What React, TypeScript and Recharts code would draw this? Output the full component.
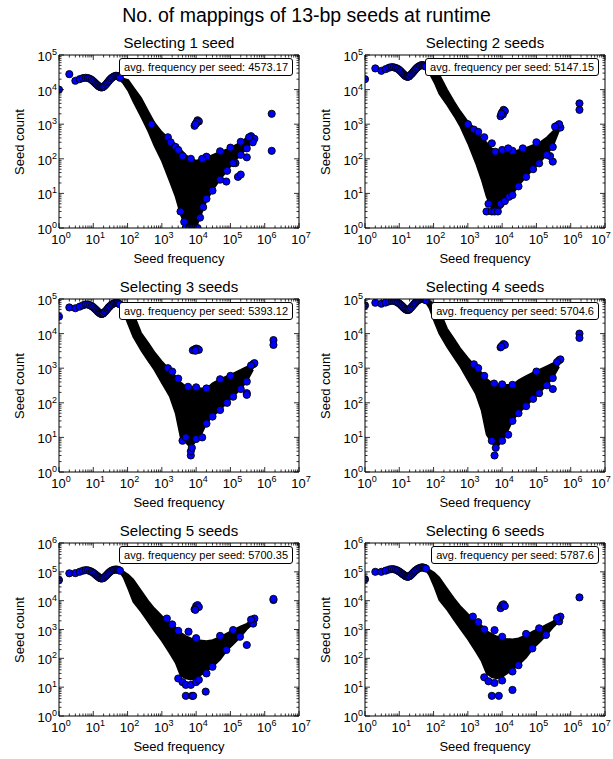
import React from 'react'
import { ComposedChart, Area, Scatter, XAxis, YAxis } from 'recharts'

const FONT = '"Liberation Sans", Arial, Helvetica, sans-serif'

// single dots of the low-frequency run (shared x positions)
const curveX = [1, 2, 3, 4, 5, 6, 7, 8, 9, 10, 11, 12, 13, 14, 15, 16, 17, 18, 19, 20, 22, 24, 26, 28, 30, 33, 36, 40, 44, 48, 52, 56, 60]
// x positions where the dense black mass is sampled
const bandX = [60, 75, 105, 146, 250, 400, 600, 1000, 1700, 2500, 3500, 5000, 7000, 1e4, 1.3e4, 2e4, 3e4, 5e4, 8e4, 1.2e5, 2e5, 3e5, 4.6e5]

const titles = ['Selecting 1 seed', 'Selecting 2 seeds', 'Selecting 3 seeds', 'Selecting 4 seeds', 'Selecting 5 seeds', 'Selecting 6 seeds']
const avgFreq = ['4573.17', '5147.15', '5393.12', '5704.6', '5700.35', '5787.6']
const yMaxes = [1e5, 1e5, 1e5, 1e5, 1e6, 1e6]

const p1Curve = [1e4, 2.8e4, 1.8e4, 2.0e4, 2.15e4, 2.2e4, 2.15e4, 2.05e4, 1.9e4, 1.75e4, 1.6e4, 1.47e4, 1.36e4, 1.28e4, 1.22e4, 1.18e4, 1.16e4, 1.16e4, 1.18e4, 1.22e4, 1.32e4, 1.45e4, 1.6e4, 1.75e4, 1.9e4, 2.1e4, 2.25e4, 2.4e4, 2.5e4, 2.5e4, 2.45e4, 2.35e4, 2.2e4]
const p1Hi = [2.2e4, 2.1e4, 1.9e4, 1.2e4, 5.8e3, 2.4e3, 1.15e3, 600, 360, 270, 190, 130, 100, 90, 95, 110, 130, 160, 190, 230, 300, 420, 400]
const p1Lo = [1.9e4, 1.5e4, 9e3, 4.5e3, 1.6e3, 620, 240, 85, 22, 8, 2.5, 1, 1, 1, 2, 6, 12, 25, 45, 75, 130, 200, 330]
const p1Extra = [
  [500, 1000], [1500, 420], [1800, 300], [2500, 220], [3000, 180], [4000, 120],
  [9000, 900], [10000, 1050], [11000, 1300], [12000, 1200], [10500, 1150], [9500, 1000],
  [1.6e6, 2000], [1.6e6, 170],
  [7.6e4, 22], [1.66e5, 30], [2e5, 35], [3e5, 110], [1.4e5, 75], [4e5, 450], [5e5, 380], [4.5e5, 300], [3.5e5, 420],
  [5000, 1], [6500, 1], [8000, 1], [9500, 1], [11000, 1],
  [3500, 3], [4500, 1.5], [1.3e4, 2], [1.6e4, 4], [2e4, 7], [3e4, 12], [5e4, 25], [8e4, 45], [1.2e5, 75], [2e5, 130], [3e5, 200],
  [2e4, 115], [5e4, 165], [1e5, 210], [2e5, 310], [1.5e4, 100], [7000, 100],
]

const p2Curve = [2e4, 4.1e4, 3.5e4, 3.9e4, 4.3e4, 4.5e4, 4.4e4, 4.2e4, 4.0e4, 3.7e4, 3.4e4, 3.1e4, 2.85e4, 2.65e4, 2.5e4, 2.4e4, 2.35e4, 2.35e4, 2.4e4, 2.5e4, 2.75e4, 3.0e4, 3.3e4, 3.6e4, 3.9e4, 4.3e4, 4.6e4, 4.9e4, 5.1e4, 5.1e4, 5.0e4, 4.8e4, 4.6e4]
const p2Hi = [4.6e4, 4.4e4, 4e4, 2.8e4, 1e4, 4.5e3, 2.4e3, 1.2e3, 700, 400, 300, 200, 180, 170, 165, 160, 180, 210, 250, 290, 420, 620, 950]
const p2Lo = [4.0e4, 3.0e4, 1.6e4, 7.5e3, 3.5e3, 1.7e3, 850, 280, 75, 25, 8, 3.5, 3, 4, 6, 9, 17, 30, 50, 74, 130, 220, 650]
const p2Extra = [
  [1000, 1000], [1500, 700], [2000, 600], [3000, 420], [5000, 280],
  [9000, 1700], [10000, 2200], [11000, 2600], [12000, 2400], [10500, 1900], [9500, 2000],
  [1.8e6, 4000], [1.8e6, 2600],
  [3e5, 83], [2.5e5, 120], [4e5, 900], [5e5, 800], [4.6e5, 1000], [3.5e5, 850],
  [3500, 3], [5000, 3], [6000, 3], [7500, 3], [4000, 5], [9000, 5], [1.2e4, 6], [1.6e4, 8], [2e4, 9], [3e4, 16], [5e4, 30], [8e4, 50], [1.2e5, 74], [2e5, 130], [3e5, 220],
  [6300, 160], [1e4, 180], [2e4, 170], [1e5, 300], [1.5e4, 200], [4e4, 200],
]

const p3Curve = [3.1e4, 5.7e4, 5.4e4, 6.0e4, 6.6e4, 7.0e4, 6.9e4, 6.6e4, 6.2e4, 5.8e4, 5.3e4, 4.9e4, 4.5e4, 4.2e4, 4.0e4, 3.8e4, 3.7e4, 3.7e4, 3.8e4, 3.9e4, 4.3e4, 4.7e4, 5.2e4, 5.7e4, 6.1e4, 6.7e4, 7.1e4, 7.5e4, 7.7e4, 7.7e4, 7.6e4, 7.3e4, 7.0e4]
const p3Hi = [7.0e4, 6.8e4, 6e4, 4e4, 1.05e4, 5.5e3, 3e3, 1.6e3, 900, 600, 400, 300, 290, 280, 270, 260, 370, 480, 600, 710, 900, 1.1e3, 1.4e3]
const p3Lo = [6e4, 4.2e4, 1.8e4, 8e3, 3.2e3, 1.6e3, 900, 370, 150, 50, 10, 7, 5, 8, 10, 25, 40, 62, 100, 150, 250, 410, 900]
const p3Extra = [
  [1500, 1000], [2000, 800], [3000, 500], [5800, 290],
  [8000, 3300], [9000, 3500], [10000, 3700], [11000, 3600], [12000, 3400], [9500, 3200],
  [1.8e6, 6500], [1.8e6, 4700],
  [3e5, 190], [3e5, 170], [4.6e5, 1300], [5e5, 1400], [4e5, 1200],
  [7000, 3], [7000, 4], [7500, 5], [4000, 8], [5000, 10], [1e4, 9], [1.5e4, 10], [2e4, 25], [3e4, 40], [5e4, 62], [8e4, 100], [1.2e5, 150], [2e5, 250], [3e5, 410],
  [2e4, 260], [1e4, 280], [1e5, 600], [5e4, 480],
]

const p4Curve = [6.5e4, 7.8e4, 7.3e4, 7.9e4, 8.5e4, 8.9e4, 8.8e4, 8.4e4, 7.9e4, 7.4e4, 6.8e4, 6.3e4, 5.8e4, 5.4e4, 5.1e4, 4.9e4, 4.8e4, 4.8e4, 4.9e4, 5.1e4, 5.6e4, 6.2e4, 6.8e4, 7.4e4, 8.0e4, 8.8e4, 9.3e4, 9.8e4, 1.0e5, 1.0e5, 9.9e4, 9.6e4, 9.2e4]
const p4Hi = [9.2e4, 8.8e4, 7.5e4, 5e4, 1.4e4, 7e3, 3.8e3, 2e3, 1.1e3, 750, 500, 380, 350, 340, 330, 330, 450, 600, 750, 900, 1.15e3, 1.4e3, 1.8e3]
const p4Lo = [7.8e4, 5.5e4, 2.2e4, 1e4, 4e3, 2e3, 1.1e3, 450, 180, 60, 12, 7, 5, 8, 12, 30, 50, 80, 130, 190, 320, 520, 1.1e3]
const p4Extra = [
  [1500, 1300], [2000, 1000], [3000, 600], [5800, 360],
  [9000, 4000], [10000, 4500], [11000, 5000], [12000, 4700], [9500, 4200],
  [1.8e6, 1e4], [1.8e6, 7500],
  [3e5, 250], [4.6e5, 1700], [5e5, 1800], [4e5, 1500],
  [6000, 3], [6500, 5], [5000, 8], [1e4, 8], [1.5e4, 12], [2e4, 30], [3e4, 50], [5e4, 80], [8e4, 130], [1.2e5, 190], [2e5, 320], [3e5, 520],
  [2e4, 330], [1e4, 340], [1e5, 800],
]

const p5Curve = [5.2e4, 8.9e4, 9.0e4, 1.0e5, 1.1e5, 1.15e5, 1.13e5, 1.07e5, 1.0e5, 9.3e4, 8.5e4, 7.8e4, 7.2e4, 6.7e4, 6.3e4, 6.0e4, 5.9e4, 5.9e4, 6.0e4, 6.2e4, 6.8e4, 7.5e4, 8.3e4, 9.1e4, 9.8e4, 1.07e5, 1.13e5, 1.18e5, 1.2e5, 1.2e5, 1.18e5, 1.14e5, 1.1e5]
const p5Hi = [1.1e5, 1.05e5, 8e4, 5.5e4, 2.2e4, 1e4, 5.5e3, 3e3, 1.8e3, 1.2e3, 800, 600, 500, 450, 420, 400, 430, 550, 750, 960, 1.3e3, 1.6e3, 2.4e3]
const p5Lo = [9.5e4, 6.5e4, 2.5e4, 9e3, 4e3, 1.8e3, 900, 400, 150, 70, 25, 20, 18, 20, 25, 35, 50, 90, 190, 300, 560, 1e3, 1.6e3]
const p5Extra = [
  [1400, 2400], [2000, 1500], [3000, 900], [6000, 840], [1e4, 500],
  [9000, 5000], [10000, 6500], [11000, 7000], [12000, 6000], [9500, 4800],
  [1.8e6, 1.05e4], [1.8e6, 1.15e4],
  [3e5, 290], [4.6e5, 1600], [5e5, 2400], [4e5, 2200],
  [5000, 5], [7600, 5], [8200, 5], [1.9e4, 7], [3000, 20], [4000, 15], [5000, 12], [7000, 12], [1e4, 15], [1.2e4, 18], [2e4, 30], [3e4, 51], [7.6e4, 195], [1.9e5, 560],
  [5e4, 600], [1.2e5, 960],
]

const p6Curve = [5.5e4, 1.0e5, 1.0e5, 1.1e5, 1.2e5, 1.25e5, 1.23e5, 1.17e5, 1.1e5, 1.02e5, 9.4e4, 8.7e4, 8.1e4, 7.6e4, 7.2e4, 6.9e4, 6.8e4, 6.8e4, 6.9e4, 7.1e4, 7.8e4, 8.6e4, 9.5e4, 1.04e5, 1.12e5, 1.22e5, 1.3e5, 1.37e5, 1.42e5, 1.42e5, 1.4e5, 1.35e5, 1.3e5]
const p6Hi = [1.3e5, 1.22e5, 9.5e4, 6.5e4, 2.6e4, 1.2e4, 6.5e3, 3.5e3, 2e3, 1.4e3, 900, 700, 580, 520, 480, 460, 500, 640, 870, 1.1e3, 1.5e3, 1.9e3, 2.8e3]
const p6Lo = [1.1e5, 7.5e4, 3e4, 1.05e4, 4.7e3, 2.1e3, 1.05e3, 460, 170, 80, 30, 22, 20, 22, 28, 40, 58, 105, 220, 350, 650, 1.15e3, 1.9e3]
const p6Extra = [
  [1400, 2800], [2000, 1800], [3000, 1000], [6000, 950], [1e4, 560],
  [9000, 5500], [10000, 7000], [11000, 7500], [12000, 6500],
  [1.8e6, 1.3e4],
  [4.6e5, 1900], [5e5, 2800], [4e5, 2500],
  [5000, 5], [8000, 5], [2e4, 8], [3000, 22], [4000, 16], [6000, 14], [1e4, 17], [2e4, 35], [3e4, 58], [7.6e4, 220], [1.9e5, 650],
  [5e4, 700], [1.2e5, 1100],
]

const curves = [p1Curve, p2Curve, p3Curve, p4Curve, p5Curve, p6Curve]
const his = [p1Hi, p2Hi, p3Hi, p4Hi, p5Hi, p6Hi]
const los = [p1Lo, p2Lo, p3Lo, p4Lo, p5Lo, p6Lo]
const extras = [p1Extra, p2Extra, p3Extra, p4Extra, p5Extra, p6Extra]

// log ticks: majors at powers of ten, minors at 2..9
function logTicks(maxExp: number) {
  const t: number[] = []
  for (let e = 0; e < maxExp; e++) for (let m = 1; m < 10; m++) t.push(m * Math.pow(10, e))
  t.push(Math.pow(10, maxExp))
  return t
}
const xTicks = logTicks(7)

function isMajor(v: number) {
  const l = Math.log10(v)
  return Math.abs(l - Math.round(l)) < 1e-6
}

const MAJ = 5
const MIN = 2.5

function Pow({ x, y, exp, anchor }: any) {
  return (
    <text x={x} y={y} textAnchor={anchor} fontSize={13} fontFamily={FONT} fill="#000">
      10<tspan dy={-6} fontSize={9}>{exp}</tspan>
    </text>
  )
}

function BottomTick({ x, y, payload, maxX }: any) {
  const v = payload.value
  const major = isMajor(v)
  // keep the last label inside the page on the right column
  const lx = Math.min(x + 2, maxX - 11)
  return (
    <g>
      <line x1={x} x2={x} y1={y} y2={y - (major ? MAJ : MIN)} stroke="#000" strokeWidth={0.8} />
      {major && <Pow x={lx} y={y + 16} exp={Math.round(Math.log10(v))} anchor="middle" />}
    </g>
  )
}

function TopTick({ x, y, payload }: any) {
  const major = isMajor(payload.value)
  return <line x1={x} x2={x} y1={y} y2={y + (major ? MAJ : MIN)} stroke="#000" strokeWidth={0.8} />
}

function LeftTick({ x, y, payload }: any) {
  const v = payload.value
  const major = isMajor(v)
  return (
    <g>
      <line x1={x} x2={x + (major ? MAJ : MIN)} y1={y} y2={y} stroke="#000" strokeWidth={0.8} />
      {major && <Pow x={x - 2} y={y + 6} exp={Math.round(Math.log10(v))} anchor="end" />}
    </g>
  )
}

function RightTick({ x, y, payload }: any) {
  const major = isMajor(payload.value)
  return <line x1={x} x2={x - (major ? MAJ : MIN)} y1={y} y2={y} stroke="#000" strokeWidth={0.8} />
}

function Dot(props: any) {
  const { cx, cy } = props
  if (cx == null || cy == null) return null
  return <circle cx={cx} cy={cy} r={3.6} fill="#0000ff" stroke="#000" strokeWidth={0.9} />
}

const PAGE_W = 613
const PLOT_W = 240
const PLOT_H = 173
const colLeft = [59, 365]
const rowTop = [55, 299, 543]

function Panel({ idx }: { idx: number }) {
  const left = colLeft[idx % 2]
  const top = rowTop[Math.floor(idx / 2)]
  const yMax = yMaxes[idx]
  const yTicks = logTicks(Math.round(Math.log10(yMax)))
  const band = bandX.map((x, i) => ({ x, lo: los[idx][i], hi: his[idx][i] }))
  const dots = [
    ...curveX.map((x, i) => ({ x, y: curves[idx][i] })),
    ...extras[idx].map(([x, y]) => ({ x, y })),
  ]
  // outer margins around the plot area (each axis takes 1px)
  const mL = 59
  const mT = 20
  const mR = 16
  const mB = 42
  const maxX = PAGE_W - 1 - (left - mL)
  const axisProps = {
    type: 'number' as const,
    scale: 'log' as const,
    allowDataOverflow: true,
    tickLine: false,
    tickSize: 0,
    tickMargin: 0,
    interval: 0 as const,
    axisLine: { stroke: '#000', strokeWidth: 1 },
  }
  return (
    <>
      <div style={{ position: 'absolute', left: left - mL, top: top - mT }}>
        <ComposedChart
          width={mL + PLOT_W + mR}
          height={mT + PLOT_H + mB}
          data={band}
          margin={{ top: mT - 1, right: mR - 1, bottom: mB - 1, left: mL - 1 }}
        >
          <XAxis {...axisProps} dataKey="x" domain={[1, 1e7]} ticks={xTicks} height={1} tick={<BottomTick maxX={maxX} />} />
          <XAxis {...axisProps} xAxisId="top" orientation="top" dataKey="x" domain={[1, 1e7]} ticks={xTicks} height={1} tick={<TopTick />} />
          <YAxis {...axisProps} domain={[1, yMax]} ticks={yTicks} width={1} tick={<LeftTick />} />
          <YAxis {...axisProps} yAxisId="right" orientation="right" domain={[1, yMax]} ticks={yTicks} width={1} tick={<RightTick />} />
          <Area
            dataKey={(d: any) => [d.lo, d.hi]}
            type="linear"
            fill="#000"
            fillOpacity={1}
            stroke="#000"
            strokeWidth={1.5}
            dot={false}
            activeDot={false}
            isAnimationActive={false}
          />
          <Scatter data={dots} dataKey="y" shape={<Dot />} isAnimationActive={false} />
        </ComposedChart>
      </div>
      <div style={{ position: 'absolute', left, width: PLOT_W, top: top - 21, textAlign: 'center', fontSize: 15, lineHeight: '18px', whiteSpace: 'nowrap' }}>
        {titles[idx]}
      </div>
      <div style={{ position: 'absolute', left, width: PLOT_W, top: top + PLOT_H + 23, textAlign: 'center', fontSize: 13, lineHeight: '16px', whiteSpace: 'nowrap' }}>
        Seed frequency
      </div>
      <div
        style={{
          position: 'absolute',
          left: left - 39 - 60,
          width: 120,
          top: top + PLOT_H / 2 - 8,
          textAlign: 'center',
          fontSize: 13,
          lineHeight: '16px',
          transform: 'rotate(-90deg)',
          whiteSpace: 'nowrap',
        }}
      >
        Seed count
      </div>
      <div
        style={{
          position: 'absolute',
          right: PAGE_W - (left + PLOT_W - 6),
          top: top + 3,
          border: '1px solid #000',
          borderRadius: 3,
          padding: '2px 4px',
          fontSize: 11,
          lineHeight: '12px',
          background: '#fff',
          whiteSpace: 'nowrap',
        }}
      >
        avg. frequency per seed: {avgFreq[idx]}
      </div>
    </>
  )
}

export default function App() {
  return (
    <div style={{ position: 'absolute', left: 0, top: 0, width: PAGE_W, height: 759, background: '#fff', fontFamily: FONT, color: '#000', overflow: 'hidden' }}>
      <div style={{ position: 'absolute', left: 0, width: PAGE_W, top: 4, textAlign: 'center', fontSize: 19.5, lineHeight: '22px' }}>
        No. of mappings of 13-bp seeds at runtime
      </div>
      {titles.map((_, i) => (
        <Panel key={i} idx={i} />
      ))}
    </div>
  )
}
